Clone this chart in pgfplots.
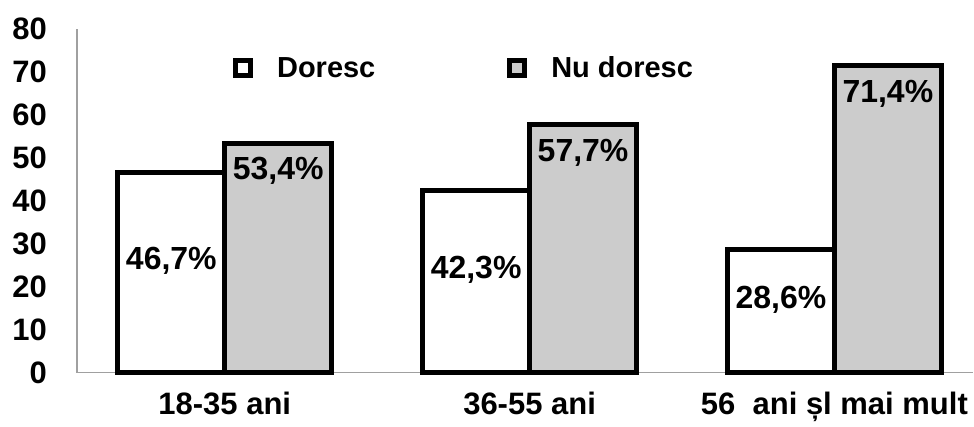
\documentclass[border=0pt]{standalone}
\usepackage{fontspec}
\setmainfont{Liberation Sans}
\usepackage{pgfplots}
\pgfplotsset{compat=1.18}
\definecolor{barg}{HTML}{CCCCCC}
\definecolor{axg}{HTML}{A0A0A0}
\begin{document}
\begin{tikzpicture}
\begin{axis}[
  name=ax,
  scale only axis, width=897pt, height=344pt,
  xmin=-0.485, xmax=2.456, ymin=0, ymax=80,
  axis lines*=left,
  axis line style={draw=axg, line width=1.2pt},
  ybar=0pt, bar width=107pt,
  xtick={0,1,2},
  xticklabels={18-35 ani, 36-55 ani, 56\ \ ani șl mai mult},
  ytick={0,10,...,80},
  major tick length=0pt,
  tick label style={font=\fontsize{31}{36}\selectfont\bfseries},
  yticklabel style={anchor=east, inner sep=0pt, xshift=-30pt},
  xticklabel style={anchor=base, inner sep=0pt, yshift=-42pt},
  /pgf/number format/assume math mode=true,
  clip=false,
  legend style={at={(rel axis cs:0.174,0.887)}, anchor=west, draw=none, fill=none,
    inner sep=0pt, legend columns=2,
    font=\fontsize{29}{34}\selectfont\bfseries,
    nodes={inner sep=0pt},
    /tikz/every odd column/.append style={column sep=24pt},
    /tikz/every even column/.append style={column sep=132pt}},
  legend image code/.code={\draw[#1, line width=5pt] (0pt,-7.5pt) rectangle (15pt,7.5pt);},
  nodes near coords={\pgfmathprintnumber[fixed,precision=1,fixed zerofill,use comma]{\pgfplotspointmeta}\%},
  every node near coord/.append style={font=\fontsize{32}{37}\selectfont\bfseries, anchor=center, inner sep=0pt},
]
\addplot[fill=white, draw=black, line width=5pt,
  visualization depends on={y \as \rawy},
  every node near coord/.append style={yshift={-\rawy*2.15pt+12pt}}]
  coordinates {(0,46.7) (1,42.3) (2,28.6)};
\addplot[fill=barg, draw=black, line width=5pt,
  every node near coord/.append style={yshift=-28pt}]
  coordinates {(0,53.4) (1,57.7) (2,71.4)};
\legend{Doresc, Nu doresc}
\end{axis}
\path ([xshift=-77pt,yshift=-54pt]ax.south west) rectangle ([yshift=29pt]ax.north east);
\end{tikzpicture}
\end{document}
